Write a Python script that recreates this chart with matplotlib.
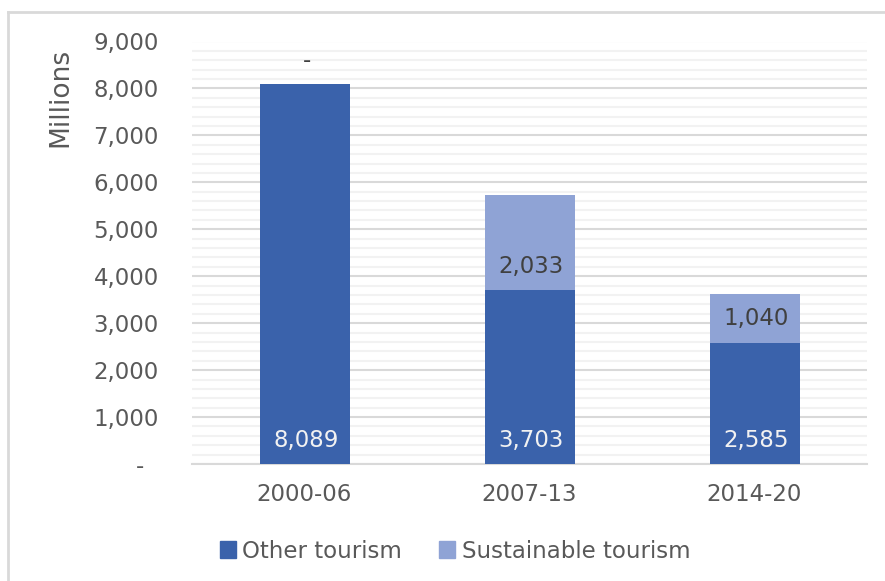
import numpy as np
import matplotlib
matplotlib.use("Agg")
import matplotlib.pyplot as plt
from matplotlib.patches import Patch
from matplotlib.lines import Line2D
from matplotlib.ticker import MultipleLocator, FuncFormatter

periods = ["2000-06", "2007-13", "2014-20"]
other = [8089, 3703, 2585]
sustainable = [0, 2033, 1040]

DARK = "#3A62AB"
LIGHT = "#8FA3D5"
TEXT = "#595959"
FS = 16.5

plt.rcParams["font.family"] = ["DejaVu Sans"]

fig = plt.figure(figsize=(8.85, 5.81), dpi=100)
ax = fig.add_axes([192 / 885, 1 - 464 / 581, (867 - 192) / 885, (464 - 41.5) / 581])

x = np.arange(len(periods))
ax.bar(x, other, width=0.4, color=DARK, zorder=3)
ax.bar(x, sustainable, width=0.4, bottom=other, color=LIGHT, zorder=3)


def fmt(v):
    return "-" if v == 0 else f"{v:,.0f}"


# labels sit just above each segment's base
for xi, o, s in zip(x, other, sustainable):
    ax.annotate(fmt(o), (xi, 0), xytext=(2, 24), textcoords="offset pixels",
                ha="center", va="center", color="#F2F2F2", fontsize=FS, zorder=4)
    ax.annotate(fmt(s), (xi, o), xytext=(2, 24), textcoords="offset pixels",
                ha="center", va="center", color="#404040", fontsize=FS, zorder=4)

ax.set_xlim(-0.5, 2.5)
ax.set_ylim(0, 9000)
ax.yaxis.set_major_locator(MultipleLocator(1000))
ax.yaxis.set_minor_locator(MultipleLocator(200))
ax.yaxis.set_major_formatter(FuncFormatter(lambda v, p: "-  " if v == 0 else f"{v:,.0f}"))
ax.grid(axis="y", which="major", color="#D9D9D9", lw=1.5, zorder=1)
ax.grid(axis="y", which="minor", color="#F2F2F2", lw=1.5, zorder=0)
ax.set_xticks(x)
ax.set_xticklabels(periods)
ax.tick_params(axis="both", which="both", length=0, labelsize=FS, colors=TEXT)
ax.tick_params(axis="y", pad=24)
ax.tick_params(axis="x", pad=14)
for side in ["left", "right", "top"]:
    ax.spines[side].set_visible(False)
ax.spines["bottom"].set_color("#D9D9D9")
ax.spines["bottom"].set_linewidth(1.5)
ax.set_ylabel("Millions", fontsize=19, color=TEXT, loc="top")
ax.yaxis.set_label_coords(-0.175, 0.985)

handles = [Patch(color=DARK), Patch(color=LIGHT)]
fig.legend(handles, ["Other tourism", "Sustainable tourism"],
           loc="center", bbox_to_anchor=(455 / 885, 1 - 551 / 581), ncol=2,
           frameon=False, fontsize=FS, labelcolor=TEXT,
           handlelength=0.7, handleheight=0.7, handletextpad=0.3, columnspacing=1.6)

# chart frame (left and top edges)
fig.add_artist(Line2D([8 / 885, 8 / 885], [0, 1 - 12 / 581], color="#D9D9D9", lw=2))
fig.add_artist(Line2D([8 / 885, 1], [1 - 12 / 581, 1 - 12 / 581], color="#D9D9D9", lw=2))

fig.savefig("out.png", dpi=100, facecolor="white")
